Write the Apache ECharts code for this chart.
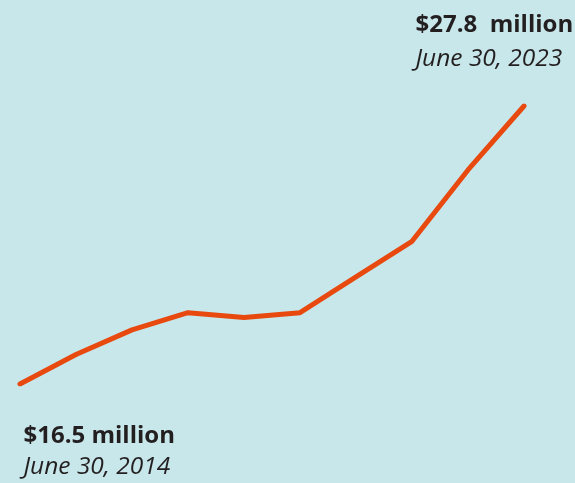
<!DOCTYPE html>
<html>
<head>
<meta charset="utf-8">
<script src="https://cdn.jsdelivr.net/npm/echarts@6/dist/echarts.min.js"></script>
<style>
  html, body { margin: 0; padding: 0; background: #c8e7eb; }
  #runChart { width: 575px; height: 483px; }
</style>
</head>
<body>
<div id="runChart"></div>
<script>
let years = ["2014", "2015", "2016", "2017", "2018", "2019", "2020", "2021", "2022", "2023"];
let values = [16.5, 17.7, 18.7, 19.4, 19.2, 19.4, 20.85, 22.3, 25.2, 27.8];
let amountLabels = ["$16.5 million", "$27.8  million"];
let dateLabels = ["June 30, 2014", "June 30, 2023"];

function makeRich(lh) {
  return {
    amt: { fontFamily: "Open Sans", fontWeight: "bold", fontSize: 24, color: "#231f20", lineHeight: lh },
    dt: { fontFamily: "Open Sans", fontStyle: "italic", fontSize: 24.5, color: "#231f20", lineHeight: lh }
  };
}

let seriesData = values.map(function (v, i) {
  if (i === 0) {
    return {
      value: v,
      label: {
        show: true,
        position: [4, 37],
        align: "left",
        verticalAlign: "top",
        formatter: "{amt|" + amountLabels[0] + "}\n{dt|" + dateLabels[0] + "}",
        rich: makeRich(31)
      }
    };
  }
  if (i === values.length - 1) {
    return {
      value: v,
      label: {
        show: true,
        position: [-108, -97],
        align: "left",
        verticalAlign: "top",
        formatter: "{amt|" + amountLabels[1] + "}\n{dt|" + dateLabels[1] + "}",
        rich: makeRich(34)
      }
    };
  }
  return v;
});

let option = {
  backgroundColor: "#c8e7eb",
  animation: false,
  grid: {
    left: 20,
    right: 51,
    top: 106,
    bottom: 99
  },
  xAxis: {
    type: "category",
    boundaryGap: false,
    data: years,
    show: false
  },
  yAxis: {
    type: "value",
    min: 16.5,
    max: 27.8,
    show: false
  },
  series: [
    {
      type: "line",
      data: seriesData,
      symbol: "circle",
      symbolSize: 1,
      showSymbol: true,
      itemStyle: { color: "#e8490f" },
      label: { show: false },
      labelLayout: { hideOverlap: false },
      lineStyle: {
        color: "#e8490f",
        width: 5,
        cap: "round",
        join: "round"
      }
    }
  ]
};

var myChart = echarts.init(document.getElementById("runChart"));
myChart.setOption(option);
</script>
</body>
</html>
